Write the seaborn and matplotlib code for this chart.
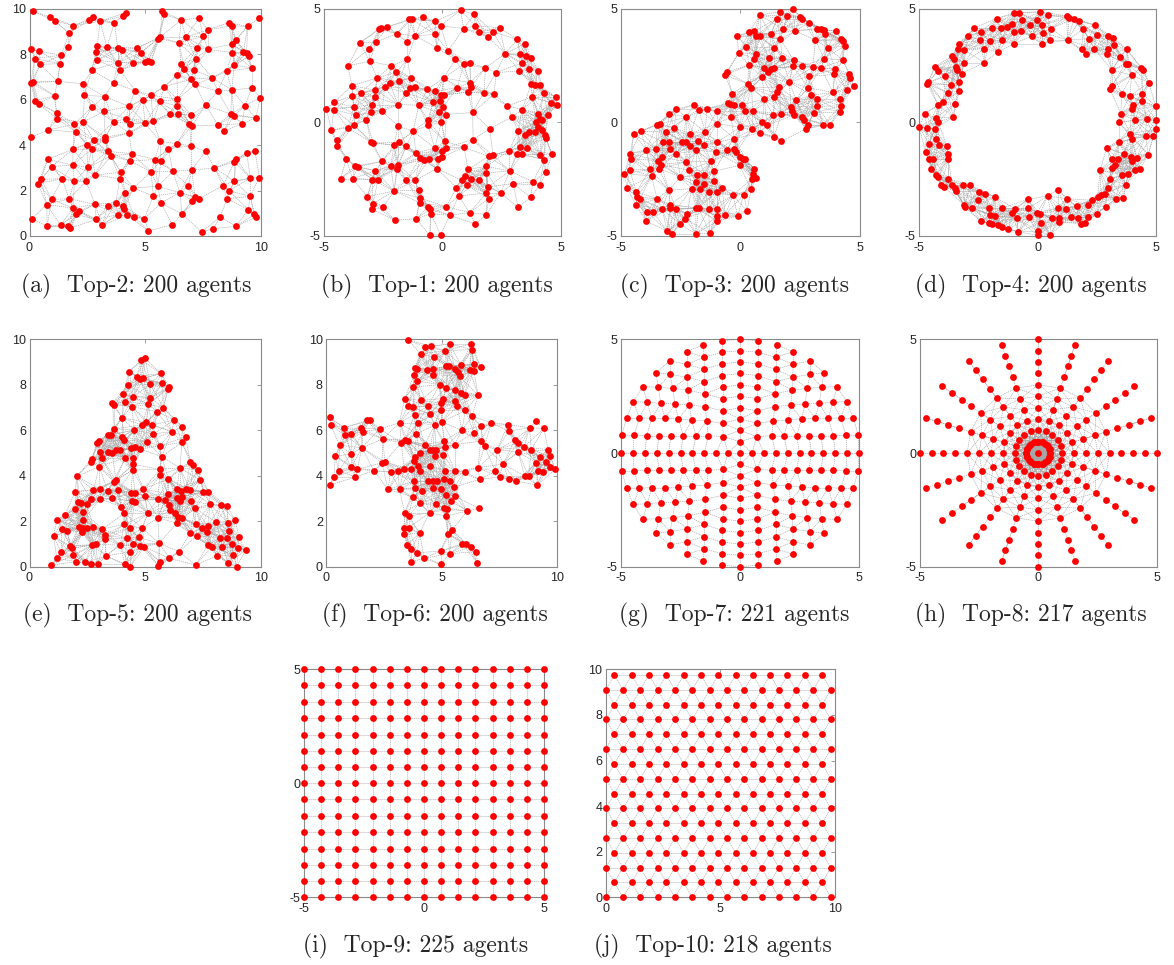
import numpy as np
import matplotlib
matplotlib.use('Agg')
import matplotlib.pyplot as plt
import seaborn as sns
from matplotlib.collections import LineCollection

sns.set_style('white')
plt.rcParams['font.family'] = ['Liberation Sans', 'DejaVu Sans']
plt.rcParams['axes.unicode_minus'] = False

# ---------------- data ----------------
# (a) Top-2: random nodes in [0,10]^2
a_nodes = [
    (0.13, 9.88), (0.89, 9.63), (1.08, 9.47), (1.90, 9.24), (2.58, 9.49), (2.76, 9.62), (3.05, 9.44), (3.67, 9.37),
    (4.03, 9.66), (4.17, 9.82), (5.74, 9.88), (5.83, 9.74), (6.55, 9.49), (7.32, 9.59), (7.70, 9.06), (8.62, 9.38),
    (8.76, 9.24), (9.42, 9.21), (9.93, 9.59), (1.71, 8.91), (1.68, 8.31), (1.37, 7.95), (0.07, 8.21), (0.42, 8.12),
    (0.22, 7.80), (0.46, 7.54), (1.32, 7.58), (2.92, 8.33), (3.34, 8.31), (3.81, 8.28), (3.99, 8.18), (4.65, 8.27),
    (4.82, 8.06), (4.99, 7.66), (5.12, 7.68), (5.24, 7.65), (2.89, 8.09), (2.92, 7.73), (3.81, 7.62), (4.49, 7.60),
    (5.55, 8.68), (5.63, 8.74), (6.46, 8.49), (6.75, 8.74), (7.51, 8.78), (7.22, 8.27), (7.70, 8.21), (6.55, 7.54),
    (7.18, 7.80), (8.73, 8.43), (8.91, 8.61), (8.76, 8.06), (9.24, 8.09), (9.38, 8.05), (9.48, 7.92), (8.85, 7.51),
    (9.60, 7.39), (2.69, 7.29), (3.91, 7.29), (0.06, 6.73), (0.16, 6.79), (1.21, 6.80), (2.32, 6.69), (3.63, 6.73),
    (6.37, 7.08), (6.69, 7.32), (6.98, 6.89), (7.09, 7.30), (7.15, 6.66), (7.90, 6.96), (8.52, 7.24), (8.13, 6.36),
    (8.73, 6.41), (9.60, 6.51), (9.97, 6.07), (0.24, 5.94), (0.39, 5.82), (1.08, 6.16), (2.37, 6.19), (3.24, 6.13),
    (4.56, 6.39), (5.25, 6.19), (5.83, 6.57), (5.63, 5.92), (6.39, 6.01), (6.36, 5.72), (7.61, 5.75), (9.31, 5.73),
    (8.84, 5.29), (8.70, 5.36), (9.77, 5.19), (9.19, 4.94), (8.42, 4.62), (8.13, 4.88), (2.69, 5.66), (3.22, 5.48),
    (4.30, 5.70), (4.89, 5.97), (1.18, 5.41), (1.19, 5.16), (1.93, 4.91), (2.32, 5.01), (3.64, 5.01), (4.17, 5.16),
    (4.36, 4.94), (4.99, 4.96), (5.34, 5.04), (6.06, 5.37), (6.40, 5.37), (6.98, 5.31), (6.91, 4.93), (7.01, 4.84),
    (0.07, 4.35), (0.82, 4.66), (2.00, 4.57), (4.30, 4.53), (2.47, 4.02), (2.78, 4.21), (3.27, 4.34), (3.24, 4.24),
    (1.88, 3.81), (2.68, 3.81), (3.38, 3.72), (3.53, 3.52), (4.42, 3.62), (4.33, 3.30), (5.64, 4.16), (6.00, 3.84),
    (6.36, 4.06), (6.98, 3.96), (7.61, 3.72), (9.38, 3.67), (9.74, 3.74), (8.92, 3.37), (8.85, 3.26), (0.79, 3.37),
    (0.96, 3.05), (1.87, 3.12), (2.52, 3.02), (1.41, 2.52), (1.94, 2.40), (2.45, 2.40), (2.83, 2.68), (0.50, 2.49),
    (0.36, 2.30), (5.42, 3.36), (5.68, 3.31), (3.96, 2.80), (3.90, 2.52), (5.25, 2.83), (6.19, 2.84), (7.01, 2.90),
    (7.99, 2.99), (8.85, 2.42), (9.54, 2.55), (9.93, 2.57), (4.13, 1.91), (4.49, 2.11), (5.54, 2.18), (6.86, 2.21),
    (8.36, 2.21), (8.62, 1.99), (6.50, 1.91), (5.35, 1.76), (7.04, 1.55), (7.15, 1.72), (7.32, 1.64), (8.53, 1.64),
    (9.53, 1.74), (0.75, 1.38), (0.96, 1.61), (1.71, 1.64), (1.88, 1.23), (2.12, 1.09), (2.00, 0.95), (2.83, 1.39),
    (3.38, 1.30), (3.73, 1.47), (4.04, 1.32), (4.09, 1.17), (3.81, 0.94), (4.22, 0.91), (4.53, 0.84), (4.96, 0.76),
    (5.68, 1.45), (6.58, 0.97), (0.10, 0.76), (0.76, 0.44), (1.34, 0.47), (1.68, 0.44), (1.77, 0.35), (2.88, 0.73),
    (3.14, 0.47), (5.14, 0.22), (6.17, 0.50), (7.44, 0.18), (7.94, 0.32), (8.24, 0.84), (8.92, 0.43), (9.45, 1.16),
    (9.71, 0.95), (9.77, 0.82),
]

# (b) Top-1: random nodes in a disc
b_nodes = [
    (0.77, 4.93), (1.34, 4.74), (0.90, 4.12), (1.39, 4.24), (1.56, 3.97), (1.93, 3.75), (2.14, 3.97), (2.42, 4.15),
    (-0.82, 4.62), (-1.40, 4.52), (-1.28, 4.53), (-0.30, 4.44), (-0.07, 4.24), (-2.58, 4.15), (-2.68, 4.09),
    (-2.32, 4.19), (-1.93, 3.89), (-1.14, 3.80), (-0.32, 3.86), (-3.48, 3.49), (-2.79, 3.53), (-3.11, 3.20),
    (-1.48, 3.53), (-0.23, 3.27), (0.24, 3.14), (3.17, 3.64), (3.51, 3.46), (2.66, 3.02), (3.27, 2.99), (3.55, 2.92),
    (3.76, 2.84), (3.37, 2.62), (3.65, 2.36), (3.24, 2.26), (4.04, 2.27), (2.28, 2.18), (1.82, 2.39), (0.55, 2.76),
    (0.90, 2.55), (1.15, 2.62), (-3.99, 2.48), (-3.07, 2.68), (-2.15, 2.48), (-1.48, 2.76), (-2.75, 1.95),
    (-1.94, 2.21), (-3.82, 1.61), (-3.45, 1.30), (-2.83, 1.41), (-2.44, 1.55), (-2.23, 1.73), (-1.85, 1.80),
    (-1.34, 1.95), (-1.38, 1.51), (-1.17, 1.55), (-1.52, 1.29), (-0.63, 1.44), (-0.32, 1.36), (0.06, 1.95),
    (0.63, 1.52), (1.15, 1.74), (1.20, 1.55), (1.08, 1.33), (1.76, 1.30), (2.18, 1.22), (3.76, 1.69), (3.93, 1.63),
    (4.11, 1.63), (3.79, 1.11), (4.28, 1.30), (4.79, 1.11), (4.61, 0.85), (4.86, 0.78), (-3.82, 1.16), (-2.83, 1.11),
    (-2.97, 0.78), (-4.90, 0.60), (-4.58, 0.87), (-4.58, 0.56), (-3.73, 0.67), (-3.00, 0.45), (-2.55, 0.48),
    (-1.87, 0.78), (-1.00, 0.75), (-0.39, 0.89), (-0.04, 1.19), (0.07, 1.19), (-0.08, 0.92), (0.03, 0.67),
    (0.17, 0.34), (-0.15, 0.43), (-0.61, 0.09), (-0.04, 0.01), (1.28, 0.43), (2.75, 0.72), (3.37, 0.56), (2.94, 0.23),
    (4.04, 0.35), (4.11, 0.16), (4.21, 0.09), (3.97, 0.01), (4.46, 0.31), (4.04, -0.21), (3.90, -0.45), (4.23, -0.35),
    (4.32, -0.54), (-4.69, -0.35), (-4.46, -0.79), (-3.99, -0.25), (-3.66, 0.31), (-3.21, 0.12), (-3.73, -0.13),
    (-1.87, -0.16), (-1.23, -0.40), (-0.61, -0.13), (2.00, -0.28), (3.48, -0.57), (3.68, -0.43), (3.20, -0.40),
    (-4.44, -1.06), (-3.03, -0.87), (-2.93, -0.91), (-2.04, -1.01), (-1.83, -0.89), (-1.52, -1.04), (-1.11, -1.35),
    (-0.96, -1.57), (-0.77, -1.67), (-0.58, -1.63), (-0.32, -1.13), (-0.01, -1.28), (0.10, -0.84), (0.17, -1.11),
    (0.00, -1.52), (-0.17, -1.63), (0.92, -1.10), (1.30, -0.76), (1.96, -1.50), (2.14, -1.45), (2.82, -1.25),
    (3.27, -1.09), (3.17, -1.38), (3.37, -1.41), (3.59, -1.13), (4.11, -1.42), (4.37, -0.69), (4.63, -1.41),
    (4.30, -1.64), (-4.06, -1.63), (-3.70, -1.94), (-3.56, -1.95), (-2.55, -1.72), (-2.18, -1.91), (-1.87, -1.86),
    (-1.92, -2.04), (-0.23, -2.04), (2.85, -2.14), (4.39, -2.18), (1.86, -1.94), (-4.30, -2.48), (-3.79, -2.48),
    (-2.83, -2.13), (-2.96, -2.52), (-2.72, -2.52), (-1.52, -2.55), (-1.14, -2.55), (1.08, -2.07), (0.94, -2.36),
    (0.83, -2.55), (1.20, -2.48), (1.03, -2.77), (1.86, -2.23), (1.93, -2.84), (1.54, -2.55), (2.99, -2.70),
    (3.83, -2.62), (4.11, -2.77), (-3.17, -3.27), (-2.04, -3.02), (-1.00, -2.99), (-0.96, -3.33), (0.59, -2.87),
    (0.69, -3.24), (2.46, -3.11), (1.86, -3.11), (3.73, -3.30), (-2.93, -3.58), (-2.96, -3.83), (-2.51, -3.74),
    (-0.61, -3.72), (-0.54, -3.83), (0.17, -3.71), (-0.96, -3.53), (1.96, -3.36), (3.20, -3.74), (-2.01, -4.31),
    (-1.10, -4.24), (-0.49, -4.02), (0.31, -4.09), (1.15, -3.97), (1.86, -4.06), (1.39, -4.47), (-0.54, -4.97),
    (-0.07, -4.94),
]

# (c) Top-3: two overlapping rings
c_nodes = [
    (2.19, 4.97), (1.65, 4.85), (1.96, 4.68), (1.54, 4.56), (2.49, 4.63), (2.58, 4.56), (2.86, 4.38), (0.81, 4.71),
    (1.79, 4.09), (2.30, 4.02), (3.21, 4.12), (3.38, 4.09), (3.52, 4.05), (4.02, 4.00), (0.38, 3.97), (0.59, 4.00),
    (0.67, 3.80), (0.81, 3.80), (1.28, 3.86), (-0.14, 3.78), (1.68, 3.64), (3.14, 3.61), (3.56, 3.86), (4.22, 3.64),
    (4.37, 3.36), (4.30, 3.56), (3.66, 3.27), (0.25, 3.31), (1.42, 3.27), (0.67, 3.02), (-0.07, 3.05), (0.56, 2.80),
    (1.19, 2.84), (1.75, 2.84), (2.23, 2.73), (3.52, 2.80), (4.30, 2.73), (2.21, 2.46), (2.58, 2.46), (3.04, 2.43),
    (3.38, 2.39), (3.98, 2.33), (0.35, 2.51), (0.98, 2.39), (1.28, 2.36), (1.42, 2.39), (1.16, 2.21), (0.92, 1.99),
    (-0.56, 2.21), (-0.63, 2.07), (2.88, 2.02), (3.94, 2.10), (4.57, 2.14), (4.61, 1.95), (4.75, 1.60), (4.47, 1.41),
    (3.88, 1.31), (2.85, 1.51), (2.05, 1.77), (0.31, 1.69), (0.46, 1.52), (1.61, 1.55), (1.54, 1.31), (1.01, 1.01),
    (1.40, 1.11), (-0.35, 1.26), (2.97, 1.19), (3.20, 1.04), (4.19, 1.04), (4.22, 0.72), (4.19, 0.45), (2.35, 0.97),
    (2.12, 0.67), (2.15, 0.48), (2.23, 0.31), (3.07, 0.41), (3.21, 0.70), (2.58, 0.23), (0.07, 0.78), (0.21, 0.48),
    (0.53, 0.48), (-0.25, 0.75), (-0.50, 0.84), (-0.42, 0.81), (1.37, 0.31), (1.72, 0.38), (2.68, 0.12), (2.82, -0.10),
    (2.77, -0.28), (3.46, -0.10), (3.77, -0.10), (0.91, -0.01), (0.49, -0.31), (0.81, -0.47), (1.41, -0.65),
    (1.72, -0.84), (1.12, -0.13), (-0.39, 0.22), (0.00, -0.22), (-1.93, 0.78), (-2.26, 0.22), (-2.68, 0.57),
    (-2.97, 0.38), (-1.75, 0.56), (-1.40, 0.60), (-0.98, 0.48), (-4.47, -0.50), (-4.16, -0.40), (-3.49, -0.10),
    (-3.35, -0.06), (-3.10, -0.43), (-2.77, -0.25), (-2.09, -0.50), (-1.47, -0.43), (-0.98, -0.06), (-3.94, -1.20),
    (-3.52, -1.19), (-3.24, -0.87), (-2.99, -0.89), (-2.96, -1.16), (-2.43, -0.87), (-2.28, -0.87), (-1.79, -0.84),
    (-1.51, -1.01), (-1.84, -1.23), (-2.12, -1.04), (-0.98, -0.87), (-1.01, -1.30), (-0.56, -1.20), (-0.28, -1.19),
    (-0.17, -1.30), (-0.25, -0.72), (-4.61, -1.38), (-4.58, -1.60), (-3.28, -1.54), (-3.46, -1.69), (-3.32, -1.86),
    (-3.41, -2.04), (-2.68, -1.38), (-2.26, -1.74), (-1.23, -1.72), (0.00, -1.52), (0.11, -1.63), (0.21, -1.60),
    (-4.86, -2.26), (-4.64, -2.08), (-3.77, -2.07), (-3.72, -2.36), (-2.51, -2.40), (-2.16, -2.11), (-1.82, -2.33),
    (-1.51, -2.30), (-1.12, -2.16), (-1.84, -2.62), (-1.54, -2.71), (-1.09, -2.58), (-0.03, -1.89), (0.59, -2.04),
    (0.53, -2.26), (0.67, -2.45), (0.49, -2.48), (-4.75, -2.89), (-4.36, -3.06), (-4.33, -3.28), (-4.22, -3.39),
    (-4.36, -3.65), (-3.49, -3.36), (-3.00, -2.99), (-2.04, -2.92), (-1.70, -2.92), (-1.33, -3.06), (-0.77, -2.90),
    (-0.98, -3.06), (-0.31, -3.21), (0.14, -3.18), (0.45, -2.95), (-3.91, -3.94), (-3.66, -3.94), (-3.28, -3.80),
    (-2.93, -3.62), (-2.93, -3.77), (-2.68, -3.83), (-1.86, -3.77), (-1.75, -3.77), (-1.33, -3.83), (-0.98, -3.80),
    (-0.98, -4.12), (-0.63, -4.06), (-0.11, -4.12), (0.28, -3.90), (-2.23, -4.02), (-3.94, -4.35), (-2.54, -4.46),
    (-2.30, -4.24), (-3.07, -4.78), (-2.86, -4.90), (-1.87, -4.90), (-1.28, -4.87), (-0.98, -4.35),
]

# (d) Top-4: annulus
d_nodes = [
    (-0.98, 4.82), (-0.79, 4.82), (0.10, 4.85), (0.42, 4.71), (1.22, 4.68), (1.32, 4.59), (1.54, 4.56), (1.74, 4.44),
    (-1.73, 4.56), (-1.10, 4.34), (-0.65, 4.50), (-0.32, 4.27), (-0.03, 4.49), (0.56, 4.12), (0.17, 4.27),
    (-2.67, 4.15), (-2.95, 3.78), (-2.39, 3.97), (-1.94, 4.15), (-1.55, 4.15), (-1.31, 4.19), (-0.98, 3.97),
    (-0.70, 4.03), (-0.22, 3.80), (0.24, 3.94), (0.52, 3.61), (0.17, 3.46), (1.26, 3.61), (1.92, 4.09), (2.42, 4.27),
    (2.49, 3.83), (2.16, 3.68), (2.95, 3.80), (3.19, 3.71), (3.23, 3.39), (2.98, 3.24), (2.39, 3.24), (2.02, 3.02),
    (1.85, 3.21), (-0.98, 3.46), (-1.49, 3.61), (-1.69, 3.09), (-2.01, 3.56), (-2.25, 3.24), (-2.43, 3.61),
    (-3.31, 3.46), (-3.37, 3.21), (-3.09, 3.17), (-3.60, 2.92), (-3.51, 2.80), (-2.25, 2.62), (-3.09, 2.62),
    (-3.46, 2.43), (-3.41, 2.29), (-4.33, 2.43), (-4.21, 2.24), (-3.90, 2.04), (-3.20, 2.14), (-4.61, 1.77),
    (-4.66, 1.69), (-3.65, 1.63), (-3.30, 1.77), (-3.79, 1.30), (-3.31, 1.36), (-3.48, 0.82), (-4.19, 0.75),
    (-3.97, 0.89), (-4.75, 0.38), (-5.00, -0.21), (-4.68, -0.25), (-4.30, 0.19), (-4.19, 0.01), (-4.33, -0.28),
    (-3.55, 0.23), (-4.58, -0.94), (-4.30, -0.75), (-4.16, -0.98), (-3.83, -1.04), (-4.72, -1.30), (-4.58, -1.60),
    (-4.40, -1.63), (-3.76, -1.38), (-3.76, -1.63), (-4.49, -2.04), (-4.30, -2.33), (-4.19, -2.40), (-3.76, -2.48),
    (-4.07, -2.74), (-3.93, -2.84), (-3.60, -2.77), (-3.48, -2.89), (-3.46, -3.04), (-3.13, -2.77), (-2.85, -2.77),
    (-3.09, -3.65), (-3.06, -3.74), (-2.75, -3.77), (-2.47, -3.06), (-2.22, -3.14), (-2.53, -3.43), (-1.80, -3.28),
    (-2.05, -3.77), (-2.01, -4.06), (-1.80, -4.12), (-1.49, -3.77), (-2.39, -4.35), (-2.05, -4.41), (-1.91, -4.46),
    (-1.69, -4.53), (-1.49, -4.60), (-1.24, -4.71), (-0.96, -3.80), (-0.88, -4.21), (-0.81, -4.82), (-1.10, -3.97),
    (-0.42, -3.39), (-0.39, -3.77), (-0.37, -4.16), (-0.04, -3.97), (0.14, -4.41), (0.00, -4.79), (0.00, -4.97),
    (0.52, -4.94), (0.42, -3.24), (0.84, -2.96), (0.84, -3.77), (0.90, -4.21), (0.90, -4.38), (1.22, -3.36),
    (1.18, -3.80), (1.40, -4.16), (1.64, -3.70), (1.71, -4.21), (0.59, -4.21), (0.10, -4.02), (2.11, -4.16),
    (1.99, -4.41), (1.83, -4.46), (2.13, -3.65), (2.28, -3.43), (2.49, -4.02), (2.53, -3.28), (2.67, -3.21),
    (2.84, -3.14), (2.87, -3.72), (3.29, -3.36), (3.61, -3.33), (2.95, -2.89), (3.05, -2.51), (3.54, -2.30),
    (3.71, -2.74), (3.82, -2.26), (4.10, -2.11), (4.31, -2.04), (2.63, -2.11), (3.12, -2.01), (3.26, -1.89),
    (3.40, -1.63), (3.65, -1.38), (3.93, -1.52), (3.99, -1.72), (4.17, -1.57), (2.91, -1.13), (3.12, -1.63),
    (4.66, -1.42), (4.55, -0.60), (4.87, -0.60), (4.97, -0.31), (5.00, 0.09), (4.59, 0.16), (4.10, 0.09),
    (3.99, -0.72), (3.89, -0.50), (3.43, -0.01), (3.43, -0.87), (3.51, 0.38), (3.96, 0.57), (4.03, 0.78),
    (4.38, 0.92), (4.97, 0.70), (4.69, 1.74), (4.41, 1.25), (4.45, 2.29), (4.35, 2.39), (3.89, 1.16), (3.54, 1.22),
    (3.05, 1.45), (3.12, 1.60), (3.12, 2.29), (3.71, 2.58), (3.82, 2.54), (3.47, 2.87), (3.75, 3.21), (2.91, 2.98),
    (3.96, 2.07),
]

# (e) Top-5: triangle
e_nodes = [
    (4.82, 9.09), (4.99, 9.16), (4.30, 8.58), (4.63, 8.36), (4.78, 8.24), (4.92, 8.28), (5.68, 8.50), (5.74, 8.06),
    (6.03, 7.92), (5.97, 7.82), (4.24, 7.99), (5.21, 8.02), (4.06, 7.58), (4.49, 7.48), (4.13, 7.26), (5.21, 7.43),
    (5.78, 6.99), (3.58, 7.18), (3.67, 7.11), (4.42, 7.04), (5.14, 7.14), (5.51, 6.82), (3.99, 6.55), (5.04, 6.35),
    (4.85, 6.23), (5.28, 6.23), (6.26, 6.45), (6.60, 6.16), (6.14, 5.94), (6.75, 5.72), (5.35, 5.84), (3.67, 6.06),
    (4.53, 6.01), (3.41, 5.79), (3.53, 5.79), (3.99, 5.72), (4.10, 5.57), (3.01, 5.53), (2.91, 5.43), (5.06, 5.50),
    (5.64, 5.31), (6.58, 5.47), (4.56, 5.28), (4.39, 5.21), (4.78, 5.18), (3.05, 5.06), (3.38, 5.03), (3.73, 5.13),
    (3.91, 5.12), (3.58, 4.99), (4.13, 4.79), (4.49, 4.79), (2.69, 4.74), (2.66, 4.59), (3.12, 4.79), (3.01, 4.40),
    (5.71, 4.84), (4.49, 4.50), (4.45, 4.25), (5.64, 4.28), (5.64, 4.03), (6.94, 4.59), (7.08, 4.47), (7.29, 4.25),
    (6.50, 4.35), (2.04, 3.97), (3.63, 3.74), (3.73, 3.80), (6.00, 3.86), (7.37, 3.81), (1.97, 3.30), (2.76, 3.36),
    (3.05, 3.42), (3.38, 3.33), (3.84, 3.37), (4.39, 3.26), (4.92, 3.42), (4.56, 3.23), (5.97, 3.20), (6.36, 3.42),
    (6.55, 3.33), (6.75, 3.42), (6.94, 3.37), (6.36, 3.04), (6.58, 3.08), (6.50, 2.89), (7.51, 3.30), (7.73, 3.30),
    (3.05, 2.98), (2.66, 2.98), (2.09, 2.86), (2.23, 2.79), (2.47, 2.74), (3.96, 2.64), (3.55, 3.01), (4.42, 2.89),
    (4.99, 3.12), (4.56, 2.86), (5.54, 2.98), (5.86, 2.93), (6.03, 2.71), (6.07, 2.49), (6.98, 2.89), (7.15, 2.57),
    (7.80, 2.74), (8.27, 2.71), (8.52, 2.68), (1.97, 2.54), (2.33, 2.39), (1.54, 2.27), (1.18, 2.05), (2.33, 2.05),
    (4.10, 2.35), (5.11, 2.35), (5.54, 2.16), (6.29, 2.35), (6.43, 2.20), (6.58, 2.13), (6.36, 1.91), (7.18, 1.86),
    (7.44, 1.69), (7.70, 1.80), (8.07, 1.95), (8.59, 1.91), (8.88, 2.05), (1.40, 1.66), (1.61, 1.58), (1.04, 1.33),
    (2.12, 1.76), (2.29, 1.72), (2.47, 1.69), (2.26, 1.54), (2.76, 1.76), (3.15, 1.66), (3.24, 1.39), (3.27, 1.22),
    (4.10, 1.86), (4.35, 1.72), (4.88, 1.69), (6.94, 1.47), (7.22, 1.36), (7.65, 1.54), (8.23, 1.28), (8.52, 1.25),
    (8.62, 1.57), (9.05, 1.32), (8.73, 1.01), (9.02, 0.81), (9.34, 0.73), (8.81, 0.51), (1.76, 0.92), (1.83, 0.81),
    (1.90, 0.51), (1.37, 0.63), (1.18, 0.37), (2.00, 0.22), (0.94, 0.07), (2.69, 0.95), (2.86, 0.98), (3.31, 0.47),
    (3.91, 0.95), (4.49, 0.98), (4.78, 0.92), (4.96, 0.87), (5.60, 1.03), (4.35, 0.66), (4.13, 0.10), (4.35, 0.00),
    (5.64, 0.22), (5.57, 0.03), (6.46, 0.66), (6.04, 0.37), (7.18, 0.07), (8.09, 0.48), (8.59, 0.15), (8.95, 0.00),
    (7.70, 0.95), (7.87, 0.88), (8.33, 0.88), (2.66, 0.10), (2.95, 0.10), (2.40, 0.19), (4.20, 1.25), (4.71, 1.29),
]

# (f) Top-6: cross
f_nodes = [
    (3.54, 9.98), (4.29, 9.65), (4.52, 9.69), (5.15, 9.50), (5.34, 9.80), (6.28, 9.80), (6.31, 9.55), (4.08, 9.36),
    (4.66, 9.21), (3.82, 8.74), (3.94, 8.71), (4.37, 8.65), (4.62, 8.70), (4.62, 8.45), (5.19, 8.81), (5.30, 8.81),
    (5.84, 8.86), (5.56, 8.71), (6.20, 8.67), (6.39, 8.92), (6.68, 8.80), (5.70, 8.57), (5.77, 8.37), (6.39, 8.62),
    (3.80, 8.42), (3.94, 8.16), (3.75, 7.89), (4.91, 8.01), (5.19, 7.86), (5.58, 7.79), (5.82, 7.64), (5.99, 7.54),
    (6.57, 7.54), (3.39, 7.39), (4.08, 7.31), (4.40, 7.06), (5.05, 7.39), (4.98, 7.20), (5.56, 7.28), (5.67, 7.06),
    (6.02, 6.87), (6.31, 6.62), (3.54, 7.06), (3.75, 7.01), (3.82, 6.69), (4.47, 6.72), (4.95, 6.87), (5.01, 6.37),
    (4.69, 6.22), (3.97, 6.33), (3.17, 6.33), (0.14, 6.57), (0.19, 6.22), (0.76, 6.11), (1.08, 5.84), (0.82, 5.78),
    (1.52, 6.08), (1.59, 5.93), (1.77, 6.43), (1.88, 6.43), (2.31, 6.06), (2.45, 5.62), (3.25, 5.45), (3.42, 5.59),
    (3.54, 5.52), (3.90, 5.84), (4.26, 5.37), (4.47, 5.15), (4.62, 5.15), (4.76, 5.15), (5.09, 5.52), (5.15, 5.26),
    (5.56, 5.37), (5.87, 5.99), (6.39, 5.89), (6.68, 6.18), (7.14, 6.33), (6.68, 5.52), (6.85, 5.30), (7.40, 5.15),
    (7.86, 6.25), (7.89, 5.96), (8.15, 5.55), (8.30, 5.45), (8.30, 5.05), (8.56, 5.26), (8.80, 6.11), (9.09, 6.40),
    (9.42, 6.08), (8.87, 5.15), (9.24, 4.82), (9.60, 5.15), (9.67, 4.86), (9.09, 4.57), (9.52, 4.61), (9.16, 4.20),
    (9.67, 4.38), (9.91, 4.28), (9.38, 4.17), (8.59, 3.98), (8.76, 3.98), (9.13, 3.59), (8.23, 3.76), (7.89, 3.84),
    (7.50, 3.94), (7.32, 4.20), (7.65, 4.52), (6.64, 3.84), (6.57, 4.35), (5.99, 4.17), (5.56, 4.20), (5.12, 4.23),
    (5.05, 4.93), (4.69, 4.86), (4.47, 4.42), (4.04, 5.01), (3.82, 4.82), (3.80, 4.64), (3.97, 4.42), (4.04, 4.23),
    (3.65, 4.28), (3.36, 4.30), (3.10, 4.23), (2.78, 4.17), (2.41, 4.57), (2.53, 4.61), (2.06, 4.23), (1.34, 4.28),
    (1.26, 3.94), (1.08, 4.38), (0.53, 4.23), (0.58, 5.34), (0.39, 4.86), (1.08, 4.96), (1.54, 5.23), (0.33, 3.94),
    (0.14, 3.59), (2.67, 3.40), (3.17, 3.40), (3.80, 3.76), (3.82, 3.47), (3.75, 3.06), (4.04, 2.81), (4.14, 3.35),
    (4.40, 3.76), (4.62, 3.76), (4.81, 3.79), (4.62, 3.47), (5.09, 3.84), (4.98, 3.40), (5.34, 3.79), (5.53, 3.50),
    (5.19, 3.15), (5.58, 3.10), (5.38, 2.88), (4.76, 2.74), (5.09, 2.59), (5.24, 2.52), (4.47, 2.37), (6.10, 2.45),
    (6.59, 2.56), (3.39, 2.37), (3.56, 2.23), (3.36, 1.71), (3.56, 1.71), (3.36, 1.42), (4.04, 1.49), (5.19, 2.23),
    (5.27, 1.45), (5.44, 1.60), (5.87, 1.01), (6.06, 1.01), (6.25, 0.86), (6.49, 0.66), (3.51, 0.95), (3.68, 0.76),
    (3.94, 0.61), (4.23, 0.37), (3.68, 0.22), (4.95, 0.69), (5.34, 0.57), (4.95, 0.10), (6.54, 0.18),
]

# (g) Top-7: axis nodes plus one quadrant (mirrored into the other three)
g_axis = [-5.0, -4.5, -4.0, -3.5, -3.0, -2.5, -2.0, -1.5, -1.0, -0.5, 0.0,
          0.5, 1.0, 1.5, 2.0, 2.5, 3.0, 3.5, 4.0, 4.5, 5.0]
g_quad_x = [0.76, 0.76, 0.76, 0.76, 0.73, 0.73, 0.70, 0.73, 0.70,
            1.54, 1.51, 1.51, 1.51, 1.47, 1.46, 1.40, 1.33,
            2.24, 2.24, 2.21, 2.20, 2.13, 2.03, 1.85,
            2.94, 2.94, 2.83, 2.73, 2.59, 2.38,
            3.53, 3.43, 3.33, 3.15, 2.90,
            4.09, 3.89, 3.71, 3.40,
            4.48, 4.23, 3.92,
            4.76, 4.45,
            4.97]
g_quad_y = [4.93, 4.43, 3.92, 3.40, 2.90, 2.39, 1.85, 1.30, 0.72,
            4.75, 4.21, 3.68, 3.14, 2.60, 2.04, 1.41, 0.76,
            4.46, 3.90, 3.33, 2.77, 2.11, 1.45, 0.76,
            4.05, 3.46, 2.84, 2.16, 1.50, 0.76,
            3.53, 2.89, 2.18, 1.52, 0.76,
            2.92, 2.23, 1.52, 0.76,
            2.26, 1.55, 0.76,
            1.55, 0.79,
            0.79]

# (h) Top-8: spokes plus an inner ring around the centre node
h_spoke_deg = [0, 18, 36, 54, 72, 90, 108, 126, 144, 162, 180, 198, 216, 234, 252, 270, 288, 306, 324, 342]
h_spoke_r = [0.5, 1.0, 1.5, 2.0, 2.5, 3.0, 3.5, 4.0, 4.5, 5.0]
h_inner_deg = [0, 22.5, 45, 67.5, 90, 112.5, 135, 157.5, 180, 202.5, 225, 247.5, 270, 292.5, 315, 337.5]
h_inner_r = 0.5

# (i) Top-9: square grid
i_grid = [-5.0, -4.29, -3.57, -2.86, -2.14, -1.43, -0.71, 0.0, 0.71, 1.43, 2.14, 2.86, 3.57, 4.29, 5.0]

# (j) Top-10: hexagonal grid
j_row_y = [0.0, 0.65, 1.30, 1.95, 2.60, 3.25, 3.90, 4.55, 5.20, 5.85, 6.50, 7.15, 7.80, 8.45, 9.10, 9.75]
j_even_x = [0.0, 0.755, 1.51, 2.265, 3.02, 3.775, 4.53, 5.285, 6.04, 6.795, 7.55, 8.305, 9.06, 9.815]
j_odd_x = [0.378, 1.133, 1.888, 2.643, 3.398, 4.153, 4.908, 5.663, 6.418, 7.173, 7.928, 8.683, 9.438]

captions = ['(a)  Top-2: 200 agents', '(b)  Top-1: 200 agents', '(c)  Top-3: 200 agents',
            '(d)  Top-4: 200 agents', '(e)  Top-5: 200 agents', '(f)  Top-6: 200 agents',
            '(g)  Top-7: 221 agents', '(h)  Top-8: 217 agents', '(i)  Top-9: 225 agents',
            '(j)  Top-10: 218 agents']

# ---------------- build node arrays ----------------
g_pts = [(0.0, v) for v in g_axis] + [(v, 0.0) for v in g_axis if v != 0.0]
for sx in (1, -1):
    for sy in (1, -1):
        g_pts += [(sx * qx, sy * qy) for qx, qy in zip(g_quad_x, g_quad_y)]

h_pts = [(0.0, 0.0)]
h_pts += [(h_inner_r * np.cos(np.radians(t)), h_inner_r * np.sin(np.radians(t))) for t in h_inner_deg]
for t in h_spoke_deg:
    h_pts += [(r * np.cos(np.radians(t)), r * np.sin(np.radians(t))) for r in h_spoke_r]

i_pts = [(x, y) for y in i_grid for x in i_grid]

j_pts = []
for k, y in enumerate(j_row_y):
    j_pts += [(x, y) for x in (j_even_x if k % 2 == 0 else j_odd_x)]

# panel: nodes, comm range, limits, xticks, yticks, axes box in pixels (left, top, right, bottom)
t10 = [0, 5, 10]
t10y = [0, 2, 4, 6, 8, 10]
t5 = [-5, 0, 5]
panels = [
    (a_nodes, 1.2, (0, 10), t10, t10y, (29.5, 8.5, 261, 236)),
    (b_nodes, 1.2, (-5, 5), t5, t5, (324, 8.5, 560.7, 236)),
    (c_nodes, 1.2, (-5, 5), t5, t5, (621, 8.5, 859.7, 236)),
    (d_nodes, 1.2, (-5, 5), t5, t5, (919, 8.5, 1156.3, 236)),
    (e_nodes, 1.2, (0, 10), t10, t10y, (29.5, 339.3, 261, 566.7)),
    (f_nodes, 1.2, (0, 10), t10, t10y, (326.3, 339.3, 557.3, 566.7)),
    (g_pts, 0.8, (-5, 5), t5, t5, (621, 339.3, 859, 566.7)),
    (h_pts, 1.0, (-5, 5), t5, t5, (919.7, 339.3, 1157, 566.7)),
    (i_pts, 0.9, (-5, 5), t5, t5, (304, 669.3, 544, 897.3)),
    (j_pts, 0.8, (0, 10), t10, t10y, (605.7, 669.3, 835, 897.3)),
]
caption_pos = [(136, 286), (437, 286), (734, 286), (1031, 286),
               (137, 615), (435, 615), (734, 615), (1031, 615),
               (416, 946), (713, 946)]

W, H = 1174, 965
fig = plt.figure(figsize=(W / 100, H / 100), dpi=100)


def comm_edges(pts, rng):
    d = np.hypot(pts[:, None, 0] - pts[None, :, 0], pts[:, None, 1] - pts[None, :, 1])
    i, j = np.where(np.triu(d < rng, 1))
    return np.stack([pts[i], pts[j]], axis=1)


for (nodes, rng, lim, xt, yt, box), cap, (cx, cy) in zip(panels, captions, caption_pos):
    l, t, r, b = box
    ax = fig.add_axes([l / W, 1 - b / H, (r - l) / W, (b - t) / H])
    pts = np.array(nodes, dtype=float)
    ax.add_collection(LineCollection(comm_edges(pts, rng), colors='#a6a6a6', linewidths=0.45,
                                     linestyles=(0, (2.0, 1.2)), zorder=1))
    sns.scatterplot(x=pts[:, 0], y=pts[:, 1], ax=ax, color='red', s=24, linewidth=0,
                    zorder=3, clip_on=False)
    ax.set_xlim(lim)
    ax.set_ylim(lim)
    ax.set_xticks(xt)
    ax.set_yticks(yt)
    ax.set_xlabel('')
    ax.set_ylabel('')
    ax.tick_params(direction='in', top=True, right=True, length=3, width=0.6,
                   color='#8a8a8a', labelsize=9, labelcolor='#262626')
    ax.tick_params(axis='x', pad=4)
    ax.tick_params(axis='y', pad=2.5)
    for s in ax.spines.values():
        s.set_color('#8a8a8a')
        s.set_linewidth(0.8)
    fig.text(cx / W, 1 - cy / H, cap, ha='center', va='center', family='cmr10', fontsize=17)

fig.savefig('out.png', dpi=100)
